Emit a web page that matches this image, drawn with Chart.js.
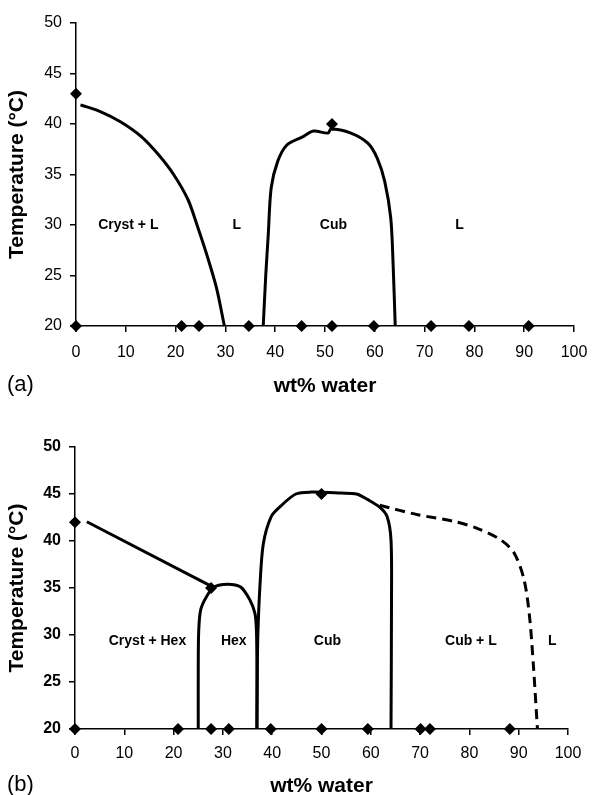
<!DOCTYPE html>
<html>
<head>
<meta charset="utf-8">
<script src="https://cdn.jsdelivr.net/npm/chart.js@4.4.1/dist/chart.umd.min.js"></script>
<style>
  body { margin: 0; background: #fff; width: 592px; height: 795px; position: relative; overflow: hidden; }
  .wrap { position: absolute; left: 0; width: 592px; }
  .tag { position: absolute; font: 22px "Liberation Sans", Arial, sans-serif; color: #000; }
</style>
</head>
<body>
<div class="wrap" style="top:0;height:400px"><canvas id="chartA" width="592" height="400"></canvas></div>
<div class="wrap" style="top:400px;height:395px"><canvas id="chartB" width="592" height="395"></canvas></div>
<div class="tag" style="left:7px;top:371px">(a)</div>
<div class="tag" style="left:7px;top:771px">(b)</div>
<script>
// ---- panel (a) ----
const aPointsX = [0, 51.4, 0, 21.2, 24.7, 34.7, 45.3, 51.4, 59.8, 71.3, 78.9, 90.9];
const aPointsY = [43, 40, 20, 20, 20, 20, 20, 20, 20, 20, 20, 20];
const aLiquidusX = [0.9, 5, 9, 13, 16.5, 19.6, 22.5, 24.3, 26.3, 28.2, 29.8];
const aLiquidusY = [41.9, 41.2, 40.2, 38.8, 37, 35, 32.5, 30, 27, 23.8, 20];
const aCubX = [37.6, 38.1, 38.6, 39.2, 40.5, 42.3, 45.4, 47.7, 50.6, 51.2, 55.2, 58.6, 60.5, 62, 63.2, 63.7, 64.1];
const aCubY = [20, 25, 29, 33.7, 36.3, 37.9, 38.7, 39.3, 39.1, 39.5, 39.1, 38.1, 36.6, 34.3, 30.7, 25.8, 20];
const aLabels = ['Cryst + L', 'L', 'Cub', 'L'];
const aLabelX = [10.5, 32.3, 51.7, 77];
const aLabelY = [30, 30, 30, 30];

// ---- panel (b) ----
const bPointsX = [0, 27.6, 50, 0, 20.9, 27.6, 31.2, 39.7, 50, 59.4, 70.1, 72, 88.2];
const bPointsY = [42, 35, 45, 20, 20, 20, 20, 20, 20, 20, 20, 20, 20];
const bCrystX = [2.4, 28];
const bCrystY = [42.05, 35.1];
const bHexX = [25, 25, 25.1, 25.5, 26.7, 28.2, 30.9, 33.6, 35.5, 36.5, 36.8, 36.9, 36.9];
const bHexY = [20, 26.6, 30.5, 32.7, 34.1, 35.1, 35.4, 35.1, 33.7, 32.3, 30.5, 26.6, 20];
const bCubX = [36.9, 37, 37.1, 37.5, 38.2, 39.8, 41.7, 44.8, 47.9, 54, 57.1, 59.4, 61.8, 63.3, 64.1, 64.2, 64.1];
const bCubY = [20, 27, 30.2, 35.1, 39.7, 42.6, 43.7, 45, 45.2, 45.1, 45, 44.4, 43.6, 42.6, 40.1, 33.7, 20];
const bLiqX = [61.8, 69.5, 77.2, 81.8, 86.4, 89.1, 91.1, 92.2, 93, 93.8];
const bLiqY = [43.8, 42.8, 42.05, 41.3, 40.1, 38.7, 35.85, 31.95, 26.6, 20];
const bLabels = ['Cryst + Hex', 'Hex', 'Cub', 'Cub + L', 'L'];
const bLabelX = [14.7, 32.2, 51.2, 80.3, 96.8];
const bLabelY = [29.3, 29.3, 29.3, 29.3, 29.3];

const xTicks = [0, 10, 20, 30, 40, 50, 60, 70, 80, 90, 100];
const yTicks = [20, 25, 30, 35, 40, 45, 50];

const FONT = '"Liberation Sans", Arial, sans-serif';

function zip(xs, ys) {
    return xs.map((x, i) => ({ x: x, y: ys[i] }));
}

function curve(xs, ys, dashed, tension) {
    return {
        data: zip(xs, ys),
        showLine: true,
        borderColor: '#000',
        borderWidth: 3,
        borderDash: dashed ? [10, 6] : [],
        pointRadius: 0,
        tension: tension,
        fill: false
    };
}

// region names written inside the diagram
const regionLabels = {
    id: 'regionLabels',
    afterDatasetsDraw(chart, args, opts) {
        const { ctx, scales } = chart;
        ctx.save();
        ctx.font = 'bold 14px ' + FONT;
        ctx.fillStyle = '#000';
        ctx.textAlign = 'center';
        ctx.textBaseline = 'middle';
        opts.text.forEach((t, i) => {
            ctx.fillText(t, scales.x.getPixelForValue(opts.xs[i]), scales.y.getPixelForValue(opts.ys[i]));
        });
        ctx.restore();
    }
};

function makeChart(id, sets, pts, lab, geo) {
    const datasets = sets.slice();
    datasets.push({
        data: zip(pts[0], pts[1]),
        showLine: false,
        pointStyle: 'rectRot',
        pointRadius: 6,
        pointBackgroundColor: '#000',
        pointBorderColor: '#000',
        pointBorderWidth: 0
    });
    return new Chart(document.getElementById(id), {
        type: 'scatter',
        data: { datasets: datasets },
        plugins: [regionLabels],
        options: {
            responsive: false,
            animation: false,
            clip: false,
            layout: { padding: { left: 0, right: geo.right, top: geo.top, bottom: 0 } },
            plugins: {
                legend: { display: false },
                tooltip: { enabled: false },
                regionLabels: { text: lab[0], xs: lab[1], ys: lab[2] }
            },
            scales: {
                x: {
                    type: 'linear',
                    min: 0,
                    max: 100,
                    // fixed axis box so the plot area lands where the reference has it
                    afterFit: s => { s.height = geo.xh; s.paddingLeft = 0; s.paddingRight = 0; },
                    afterBuildTicks: s => { s.ticks = xTicks.map(v => ({ value: v })); },
                    grid: { drawOnChartArea: false, drawTicks: true, tickLength: 6, color: '#000', lineWidth: 1.5 },
                    border: { display: true, color: '#000', width: 1.5 },
                    ticks: { color: '#000', padding: geo.xpad, maxRotation: 0, font: { family: FONT, size: 16 } },
                    title: { display: true, text: 'wt% water', color: '#000', padding: { top: 0, bottom: geo.tpad },
                             font: { family: FONT, size: 21, weight: 'bold' } }
                },
                y: {
                    type: 'linear',
                    min: 20,
                    max: 50,
                    afterFit: s => { s.width = geo.yw; s.paddingTop = 0; s.paddingBottom = 0; },
                    afterBuildTicks: s => { s.ticks = yTicks.map(v => ({ value: v })); },
                    grid: { drawOnChartArea: false, drawTicks: true, tickLength: 6, color: '#000', lineWidth: 1.5 },
                    border: { display: true, color: '#000', width: 1.5 },
                    ticks: { color: '#000', padding: 8, font: { family: FONT, size: 16, weight: geo.yBold ? 'bold' : 'normal' } },
                    title: { display: true, text: 'Temperature (°C)', color: '#000', padding: { top: 5, bottom: 0 },
                             font: { family: FONT, size: 21, weight: 'bold' } }
                }
            }
        }
    });
}

makeChart('chartA',
    [curve(aLiquidusX, aLiquidusY, false, 0.3), curve(aCubX, aCubY, false, 0.3)],
    [aPointsX, aPointsY],
    [aLabels, aLabelX, aLabelY],
    { right: 18, top: 23, xh: 74, yw: 76, xpad: 11, tpad: 1, yBold: false });

makeChart('chartB',
    [curve(bCrystX, bCrystY, false, 0), curve(bHexX, bHexY, false, 0.3),
     curve(bCubX, bCubY, false, 0.3), curve(bLiqX, bLiqY, true, 0.3)],
    [bPointsX, bPointsY],
    [bLabels, bLabelX, bLabelY],
    { right: 24, top: 47, xh: 66, yw: 75, xpad: 9, tpad: -4, yBold: true });
</script>
</body>
</html>
